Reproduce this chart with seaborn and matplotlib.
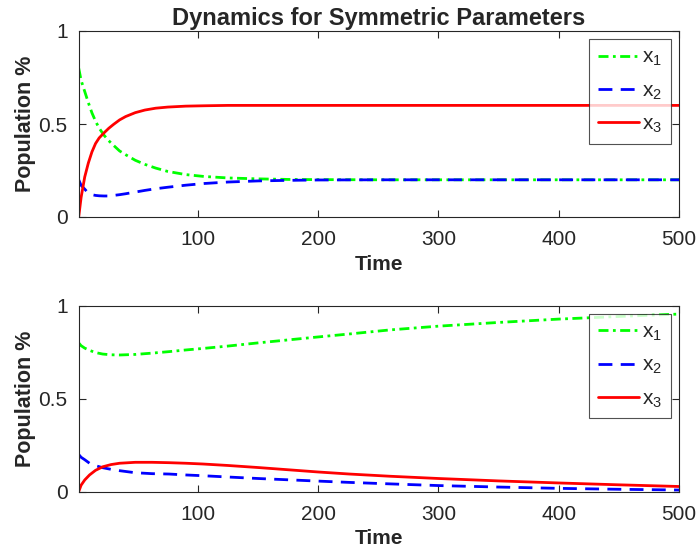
import matplotlib
matplotlib.use("Agg")
import matplotlib.pyplot as plt
import seaborn as sns
import pandas as pd

# ---------------- data ----------------
t_top = [1, 3, 6, 9, 12, 15, 18, 22, 26, 30, 35, 40, 48, 56, 65, 75, 90, 105,
         125, 150, 175, 200, 250, 300, 400, 500]
x1_top = [0.80, 0.735, 0.675, 0.615, 0.56, 0.515, 0.478, 0.44, 0.41, 0.385, 0.355,
          0.335, 0.305, 0.283, 0.263, 0.245, 0.228, 0.218, 0.21, 0.205, 0.202,
          0.201, 0.20, 0.20, 0.20, 0.20]
x2_top = [0.20, 0.17, 0.15, 0.128, 0.12, 0.116, 0.114, 0.113, 0.113, 0.116, 0.12,
          0.125, 0.134, 0.143, 0.152, 0.16, 0.171, 0.18, 0.188, 0.194, 0.197,
          0.199, 0.20, 0.20, 0.20, 0.20]
x3_top = [0.0, 0.105, 0.215, 0.29, 0.35, 0.395, 0.425, 0.452, 0.477, 0.498, 0.522,
          0.54, 0.561, 0.575, 0.585, 0.591, 0.596, 0.598, 0.60, 0.60, 0.60,
          0.60, 0.60, 0.60, 0.60, 0.60]

t_bot = [1, 3, 6, 10, 15, 21, 28, 35, 48, 62, 76, 90, 104, 125, 150, 175, 200,
         226, 260, 300, 350, 400, 450, 500]
x1_bot = [0.80, 0.785, 0.772, 0.76, 0.748, 0.740, 0.736, 0.735, 0.738, 0.745,
          0.753, 0.762, 0.770, 0.783, 0.800, 0.816, 0.832, 0.848, 0.870, 0.890,
          0.910, 0.928, 0.942, 0.955]
x2_bot = [0.20, 0.185, 0.172, 0.153, 0.14, 0.129, 0.12, 0.113, 0.102, 0.097,
          0.095, 0.09, 0.086, 0.079, 0.071, 0.064, 0.057, 0.05, 0.042, 0.033,
          0.025, 0.018, 0.013, 0.009]
x3_bot = [0.0, 0.035, 0.063, 0.09, 0.115, 0.134, 0.146, 0.153, 0.158, 0.158,
          0.156, 0.153, 0.149, 0.141, 0.13, 0.118, 0.106, 0.095, 0.083, 0.071,
          0.058, 0.047, 0.037, 0.028]

labels = ["x$_1$", "x$_2$", "x$_3$"]
xticks = [100, 200, 300, 400, 500]
yticks = [0, 0.5, 1]
yticklabels = ["0", "0.5", "1"]
title = "Dynamics for Symmetric Parameters"
xlabel = "Time"
ylabel = "Population %"

# ---------------- style ----------------
sns.set_theme(style="white")
fam = ["Liberation Sans", "DejaVu Sans"]
plt.rcParams["font.family"] = fam
plt.rcParams["mathtext.fontset"] = "custom"
plt.rcParams["mathtext.rm"] = "Liberation Sans"
plt.rcParams["mathtext.it"] = "Liberation Sans"

fig = plt.figure(figsize=(6.97, 5.56), dpi=100)
W, H = 697.0, 556.0
ax_top = fig.add_axes([78.7 / W, 1 - 217 / H, (679 - 78.7) / W, 186 / H])
ax_bot = fig.add_axes([78.7 / W, 1 - 491.7 / H, (679 - 78.7) / W, 186 / H])

colors = [(0, 1, 0), (0, 0, 1), (1, 0, 0)]
dashes = [(3.6, 1.6, 1.0, 1.6), (5, 3), ()]
tick_col = (0.15, 0.15, 0.15)

def draw(ax, t, ys):
    for y, lab, c, d in zip(ys, labels, colors, dashes):
        df = pd.DataFrame({"t": t, "v": y})
        sns.lineplot(data=df, x="t", y="v", ax=ax, color=c, linewidth=2.0,
                     label=lab, legend=False)
        ln = ax.lines[-1]
        if d:
            ln.set_dashes(d)
    ax.set_xlim(1, 500)
    ax.set_ylim(0, 1)
    ax.set_xticks(xticks)
    ax.set_xticklabels([str(v) for v in xticks])
    ax.set_yticks(yticks)
    ax.set_yticklabels(yticklabels)
    ax.tick_params(direction="in", length=5, width=0.8, colors=tick_col,
                   labelsize=15, top=True, right=True, bottom=True, left=True,
                   labelcolor=tick_col)
    ax.tick_params(axis="x", pad=9.5)
    ax.tick_params(axis="y", pad=8)
    for s in ax.spines.values():
        s.set_color(tick_col)
        s.set_linewidth(0.8)
    ax.set_xlabel(xlabel, fontsize=15, fontweight="bold", color=tick_col, labelpad=4)
    ax.set_ylabel(ylabel, fontsize=15.5, fontweight="bold", color=tick_col, labelpad=2)
    leg = ax.legend(loc="upper right", fontsize=15, frameon=True, fancybox=False,
                    edgecolor=tick_col, handlelength=1.95, handletextpad=0.15,
                    labelspacing=0.62, borderaxespad=0.4, borderpad=0.42)
    leg.get_frame().set_linewidth(0.8)
    ax.set_facecolor("white")

draw(ax_top, t_top, [x1_top, x2_top, x3_top])
draw(ax_bot, t_bot, [x1_bot, x2_bot, x3_bot])
ax_top.set_title(title, fontsize=17, fontweight="bold", pad=4)

fig.savefig("out.png", dpi=100, facecolor="white")
